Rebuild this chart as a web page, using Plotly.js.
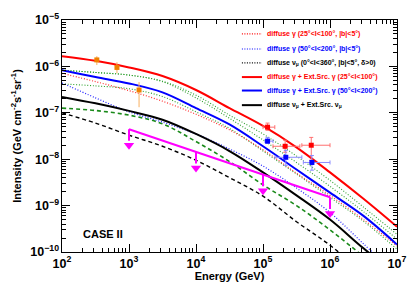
<!DOCTYPE html>
<html>
<head>
<meta charset="utf-8">
<script src="https://cdn.plot.ly/plotly-3.0.1.min.js"></script>
<style>html,body{margin:0;padding:0;background:#fff;}#chart{width:415px;height:291px;}</style>
</head>
<body>
<div id="chart"></div>
<script>
// ---------- data ----------
var energy = [1e2, 3.16e2, 1e3, 3.16e3, 1e4, 3.16e4, 1e5, 3.16e5, 1e6, 3.16e6, 1e7];

var totGamma25 = [1.66e-6, 1.32e-6, 9.5e-7, 6.2e-7, 3.1e-7, 1.26e-7, 5.2e-8, 1.8e-8, 5.2e-9, 1.4e-9, 3.5e-10];
var totGamma50 = [8.3e-7, 5.9e-7, 4.3e-7, 2.75e-7, 1.26e-7, 5.6e-8, 1.9e-8, 6.0e-9, 1.9e-9, 6.0e-10, 1.45e-10];
var totNu      = [2.2e-7, 1.6e-7, 1.1e-7, 7.1e-8, 3.5e-8, 1.5e-8, 5.2e-9, 1.66e-9, 5.0e-10, 1.2e-10, 3.2e-11];
var difGamma25 = [7.1e-7, 4.7e-7, 3.0e-7, 1.78e-7, 9.3e-8, 4.3e-8, 1.6e-8, 5.0e-9, 1.66e-9, 5.0e-10, 1.35e-10];
var difGamma50 = [4.4e-7, 2.1e-7, 1.05e-7, 6.3e-8, 3.5e-8, 1.66e-8, 7.1e-9, 2.4e-9, 7.1e-10, 1.5e-10, 3.2e-11];
var difNu      = [1.0e-7, 6.0e-8, 3.3e-8, 1.9e-8, 9.5e-9, 4.0e-9, 1.6e-9, 4.5e-10, 1.4e-10, 3.5e-11, 1e-11];
var greenDash  = [1.26e-7, 1.12e-7, 8.9e-8, 5.8e-8, 2.4e-8, 8.9e-9, 2.8e-9, 1.0e-9, 3.0e-10, 8e-11, 2e-11];
var greenDotA  = [8.3e-7, 7.4e-7, 6.5e-7, 4.8e-7, 2.4e-7, 8.9e-8, 3.5e-8, 1.17e-8, 3.5e-9, 9.3e-10, 2.4e-10];
var greenDotB  = [8.3e-7, 7.4e-7, 6.5e-7, 4.7e-7, 2.1e-7, 7.6e-8, 2.6e-8, 8.5e-9, 2.6e-9, 7.4e-10, 1.9e-10];
var greenDotC  = [4.2e-7, 3.8e-7, 3.3e-7, 2.24e-7, 1.05e-7, 4.6e-8, 1.5e-8, 4.8e-9, 1.5e-9, 4.6e-10, 1.15e-10];

// orange points
var orE = [331, 661, 1413];
var orI = [1.38e-6, 9.5e-7, 3.1e-7];
var orUp = [2.8e-7, 2.8e-7, 1.5e-7];
var orDn = [3.1e-7, 2.4e-7, 1.78e-7];

// red points
var rdE = [1.17e5, 2.14e5, 5.25e5];
var rdI = [4.9e-8, 1.9e-8, 2.0e-8];
var rdUp = [1.1e-8, 6.7e-9, 9.5e-9];
var rdDn = [7e-9, 4.9e-9, 1.05e-8];
var rdXp = [3.3e4, 1.41e5, 4.75e5];
var rdXm = [1.7e4, 7.3e4, 1.45e5];

// blue points
var buE = [1.17e5, 2.19e5, 5.37e5];
var buI = [2.45e-8, 1.1e-8, 8.5e-9];
var buUp = [5e-9, 4.5e-9, 3.5e-9];
var buDn = [2.5e-9, 3.6e-9, 2.7e-9];
var buXp = [2.4e4, 1.61e5, 4.63e5];
var buXm = [1.0e4, 6.8e4, 1.37e5];

// upper limits (magenta)
var limE = [1e3, 1e4, 1e5, 1e6];
var limI = [4.43e-8, 1.44e-8, 4.66e-9, 1.51e-9];

// legend entries
var legNames = [
  'diffuse γ (25°&lt;l&lt;100°, |b|&lt;5°)',
  'diffuse γ (50°&lt;l&lt;200°, |b|&lt;5°)',
  'diffuse ν<sub>μ</sub> (0°&lt;l&lt;360°, |b|&lt;5°, δ&gt;0)',
  'diffuse γ + Ext.Src. γ (25°&lt;l&lt;100°)',
  'diffuse γ + Ext.Src. γ (50°&lt;l&lt;200°)',
  'diffuse ν<sub>μ</sub> + Ext.Src. ν<sub>μ</sub>'
];
var legColors = ['#ff0000', '#0000ff', '#000000', '#ff0000', '#0000ff', '#000000'];
var legDash = ['1px,1.5px', '1px,1.5px', '1px,1.5px', 'solid', 'solid', 'solid'];
var legWidth = [1.2, 1.2, 1.2, 2, 2, 2];

// ---------- traces ----------
var FONT = 'Liberation Sans, Arial, Helvetica, sans-serif';
var DOT = '1px,1.8px';
var DASH = '4px,3px';
function curve(y, color, dash, width) {
  return {x: energy, y: y, mode: 'lines', type: 'scatter', showlegend: false, hoverinfo: 'skip',
    line: {color: color, dash: dash, width: width, shape: 'spline', smoothing: 1}};
}
var arrowX = [], arrowY = [], tipY = [];
var arrowFactor = 0.45;
for (var i = 0; i < limE.length; i++) {
  arrowX.push(limE[i], limE[i], null);
  arrowY.push(limI[i], limI[i] * arrowFactor * 1.25, null);
  tipY.push(limI[i] * arrowFactor);
}

var traces = [
  curve(greenDotA, '#2fa02f', DOT, 1.1),
  curve(greenDotB, '#2fa02f', DOT, 1.1),
  curve(greenDotC, '#2fa02f', DOT, 1.1),
  curve(greenDash, '#1a8a1a', DASH, 1.6),
  curve(difNu, '#000000', DASH, 1.4),
  curve(difGamma25, '#ff3030', DOT, 1.2),
  curve(difGamma50, '#2020ff', DOT, 1.2),
  curve(totNu, '#000000', 'solid', 2),
  curve(totGamma50, '#0000ff', 'solid', 2),
  curve(totGamma25, '#ff0000', 'solid', 2),
  {x: limE, y: limI, mode: 'lines', type: 'scatter', showlegend: false, hoverinfo: 'skip',
    line: {color: '#ff00ff', width: 2}},
  {x: arrowX, y: arrowY, mode: 'lines', type: 'scatter', showlegend: false, hoverinfo: 'skip',
    line: {color: '#ff00ff', width: 2}},
  {x: limE, y: tipY, mode: 'markers', type: 'scatter', showlegend: false, hoverinfo: 'skip',
    marker: {symbol: 'triangle-down', size: 9, color: '#ff00ff'}},
  {x: orE, y: orI, mode: 'markers', type: 'scatter', showlegend: false, hoverinfo: 'skip',
    marker: {symbol: 'square', size: 5, color: '#f08000'},
    error_y: {type: 'data', symmetric: false, array: orUp, arrayminus: orDn, color: '#f8b060', thickness: 1, width: 0}},
  {x: rdE, y: rdI, mode: 'markers', type: 'scatter', showlegend: false, hoverinfo: 'skip',
    marker: {symbol: 'square', size: 5, color: '#ff0000'},
    error_y: {type: 'data', symmetric: false, array: rdUp, arrayminus: rdDn, color: '#ff7070', thickness: 1, width: 2},
    error_x: {type: 'data', symmetric: false, array: rdXp, arrayminus: rdXm, color: '#ff7070', thickness: 1, width: 2}},
  {x: buE, y: buI, mode: 'markers', type: 'scatter', showlegend: false, hoverinfo: 'skip',
    marker: {symbol: 'square', size: 5, color: '#0000ff'},
    error_y: {type: 'data', symmetric: false, array: buUp, arrayminus: buDn, color: '#8c8cff', thickness: 1, width: 2},
    error_x: {type: 'data', symmetric: false, array: buXp, arrayminus: buXm, color: '#8c8cff', thickness: 1, width: 2}}
];

// ---------- legend (manual) ----------
var legY = [0.940, 0.875, 0.815, 0.754, 0.696, 0.633];
var shapes = [], annotations = [];
for (var k = 0; k < legNames.length; k++) {
  shapes.push({type: 'line', xref: 'paper', yref: 'paper', x0: 0.537, x1: 0.597, y0: legY[k], y1: legY[k],
    line: {color: legColors[k], width: legWidth[k], dash: legDash[k]}});
  annotations.push({xref: 'paper', yref: 'paper', x: 0.607, y: legY[k], xanchor: 'left', yanchor: 'middle',
    text: legNames[k], showarrow: false,
    font: {family: FONT, size: 7, color: legColors[k], weight: 'bold'}});
}
annotations.push({xref: 'paper', yref: 'paper', x: 0.058, y: 0.077, xanchor: 'left', yanchor: 'middle',
  text: 'CASE II', showarrow: false, font: {family: FONT, size: 11, color: '#000', weight: 'bold'}});

var axisCommon = {
  type: 'log', dtick: 1, ticks: 'inside', ticklen: 8, tickwidth: 1, tickcolor: '#000',
  showline: true, linecolor: '#000', linewidth: 1, mirror: 'allticks',
  showgrid: false, zeroline: false, exponentformat: 'power', showexponent: 'all',
  tickfont: {family: FONT, size: 10, color: '#000', weight: 'bold'},
  minor: {ticks: 'inside', ticklen: 4, dtick: 'D1', tickcolor: '#000', showgrid: false}
};

var layout = {
  width: 415, height: 291,
  margin: {l: 62, r: 18, t: 20, b: 39},
  paper_bgcolor: '#fff', plot_bgcolor: '#fff',
  showlegend: false,
  xaxis: Object.assign({}, axisCommon, {range: [2, 7],
    title: {text: 'Energy (GeV)', font: {family: FONT, size: 11, color: '#000', weight: 'bold'}, standoff: 2}}),
  yaxis: Object.assign({}, axisCommon, {range: [-10, -5],
    title: {text: 'Intensity (GeV cm<sup>-2</sup>s<sup>-1</sup>sr<sup>-1</sup>)', font: {family: FONT, size: 11, color: '#000', weight: 'bold'}, standoff: 6}}),
  shapes: shapes,
  annotations: annotations
};

Plotly.newPlot('chart', traces, layout, {staticPlot: true, displayModeBar: false});
</script>
</body>
</html>
